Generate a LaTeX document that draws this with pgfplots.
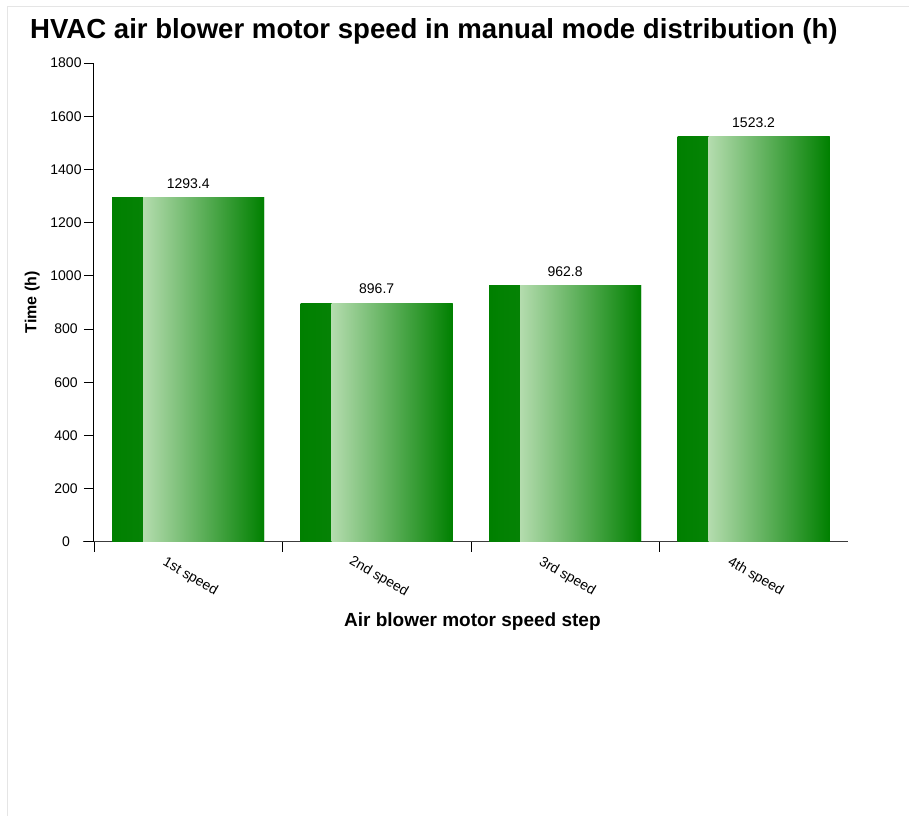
\documentclass[border=0pt]{standalone}
\usepackage{fontspec}
\setmainfont{Liberation Sans}
\usepackage{pgfplots}
\pgfplotsset{compat=1.18}
\definecolor{dg}{RGB}{0,128,0}
\definecolor{dg2}{RGB}{26,140,26}
\definecolor{lg}{RGB}{180,220,174}
\definecolor{axgray}{RGB}{60,60,60}
\pgfplotsset{
  darkbar/.style={ybar, bar width=152pt, bar shift=0pt, draw=none, left color=dg, right color=dg2,
    point meta=explicit symbolic, nodes near coords,
    every node near coord/.append style={font=\fontsize{14}{16}\selectfont, black, anchor=south, inner sep=0pt, yshift=9pt}},
  lightbar/.style={ybar, bar width=121pt, bar shift=15.5pt, draw=none, left color=lg, right color=dg},
}
\begin{document}
\begin{tikzpicture}[x=1pt,y=1pt]
\fill[white] (0,0) rectangle (909,816);
\draw[black!10] (7.5,0) -- (7.5,809.5) -- (909,809.5);
\node[anchor=base west, inner sep=0pt, font=\bfseries\fontsize{27.6}{30}\selectfont] at (30,777) {HVAC air blower motor speed in manual mode distribution (h)};
\draw[axgray, line width=1.2pt] (83,274) -- (94,274);
\begin{axis}[
  at={(94pt,274pt)}, anchor=south west, scale only axis,
  width=754pt, height=479pt,
  xmin=0.5, xmax=4.5, ymin=0, ymax=1800,
  axis lines=left,
  x axis line style={-, axgray, line width=1.2pt},
  y axis line style={-, black, line width=1pt},
  tick align=outside,
  major tick length=10pt,
  tick style={black, line width=0.8pt},
  ytick={0,200,...,1800},
  yticklabel style={font=\fontsize{14}{16}\selectfont, anchor=center, xshift=-18pt},
  /pgf/number format/assume math mode=true,
  /pgf/number format/1000 sep={},
  xtick={0.5,1.5,2.5,3.5},
  xticklabels={},
  extra x ticks={1,2,3,4},
  extra x tick labels={1st speed,2nd speed,3rd speed,4th speed},
  extra x tick style={major tick length=0pt, xticklabel style={font=\fontsize{14}{16}\selectfont, xshift=2pt, yshift=-35pt, rotate=-30, anchor=center}},
  ylabel={Time (h)},
  ylabel style={font=\bfseries\fontsize{16}{18}\selectfont, at={(axis description cs:-0.082,0.5)}, anchor=center, rotate=0},
  xlabel={Air blower motor speed step},
  xlabel style={font=\bfseries\fontsize{19}{21}\selectfont, at={(axis description cs:0.502,-0.167)}, anchor=center},
  clip=false,
]
\addplot[darkbar] coordinates {(1,1293.4) [1293.4]};
\addplot[lightbar] coordinates {(1,1293.4)};
\addplot[darkbar] coordinates {(2,896.7) [896.7]};
\addplot[lightbar] coordinates {(2,896.7)};
\addplot[darkbar] coordinates {(3,962.8) [962.8]};
\addplot[lightbar] coordinates {(3,962.8)};
\addplot[darkbar] coordinates {(4,1523.2) [1523.2]};
\addplot[lightbar] coordinates {(4,1523.2)};
\end{axis}
\end{tikzpicture}
\end{document}
